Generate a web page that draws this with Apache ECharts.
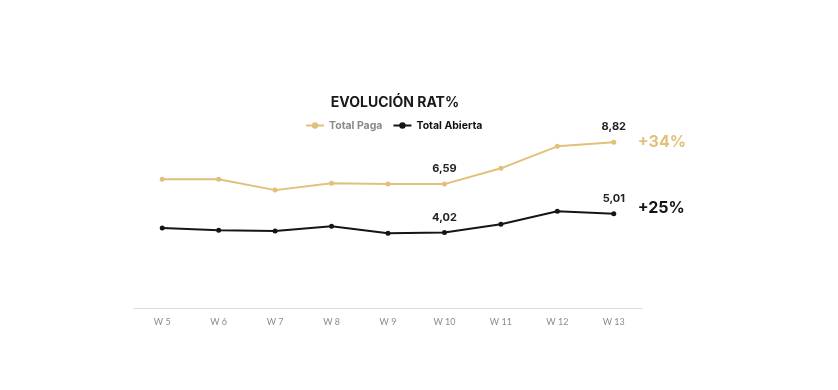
<!DOCTYPE html>
<html><head><meta charset="utf-8">
<script src="https://cdn.jsdelivr.net/npm/echarts@6/dist/echarts.min.js"></script>
<style>html,body{margin:0;padding:0;background:#fff}#c{width:838px;height:390px}</style>
</head><body><div id="c"></div>
<script>
var categories = ['W 5','W 6','W 7','W 8','W 9','W 10','W 11','W 12','W 13'];
var totalPaga = [6.85, 6.85, 6.27, 6.64, 6.59, 6.59, 7.43, 8.60, 8.82];
var totalAbierta = [4.25, 4.14, 4.09, 4.35, 3.98, 4.02, 4.46, 5.15, 5.01];
var labeledIdx = [5, 8];
var changePaga = '+34%';
var changeAbierta = '+25%';
var gold = '#e2c07a', dark = '#151515';
var font = 'Inter';
function lbl(p){ return labeledIdx.indexOf(p.dataIndex) >= 0 ? p.value.toFixed(2).replace('.', ',') : ''; }
var chart = echarts.init(document.getElementById('c'));
chart.setOption({
  animation: false,
  title: { text: 'EVOLUCIÓN RAT%', left: 390, top: 91, textAlign: 'center',
    textStyle: { fontFamily: font, fontWeight: 'bold', fontSize: 14, color: '#1a1a1a' } },
  legend: { top: 115, left: 300, itemWidth: 18, itemHeight: 8, itemGap: 10,
    textStyle: { fontFamily: font, fontWeight: 'bold', fontSize: 10.5 },
    data: [ { name: 'Total Paga', textStyle: { color: '#8a8a8a' } },
            { name: 'Total Abierta', textStyle: { color: '#111' } } ] },
  grid: { left: 134, right: 196, top: 120, bottom: 82 },
  xAxis: { type: 'category', data: categories, boundaryGap: true,
    axisLine: { lineStyle: { color: '#dcdcdc' } }, axisTick: { show: false },
    axisLabel: { color: '#8c8c8c', fontFamily: 'Lato', fontSize: 9, margin: 10 } },
  yAxis: { type: 'value', min: 0, max: 10, show: false, splitLine: { show: false } },
  series: [
    { name: 'Total Paga', type: 'line', data: totalPaga, color: gold,
      symbol: 'circle', symbolSize: 5, lineStyle: { width: 2, color: gold },
      itemStyle: { color: gold },
      label: { show: true, position: 'top', distance: 7, formatter: lbl,
        color: '#222', fontFamily: font, fontWeight: 'bold', fontSize: 11 },
      endLabel: { show: true, formatter: changePaga, distance: 24, offset: [0, 0],
        color: gold, fontFamily: font, fontWeight: 'bold', fontSize: 16 } },
    { name: 'Total Abierta', type: 'line', data: totalAbierta, color: dark,
      symbol: 'circle', symbolSize: 5, lineStyle: { width: 2, color: dark },
      itemStyle: { color: dark },
      label: { show: true, position: 'top', distance: 7, formatter: lbl,
        color: '#222', fontFamily: font, fontWeight: 'bold', fontSize: 11 },
      endLabel: { show: true, formatter: changeAbierta, distance: 24, offset: [0, -6],
        color: dark, fontFamily: font, fontWeight: 'bold', fontSize: 16 } }
  ]
});
</script></body></html>
